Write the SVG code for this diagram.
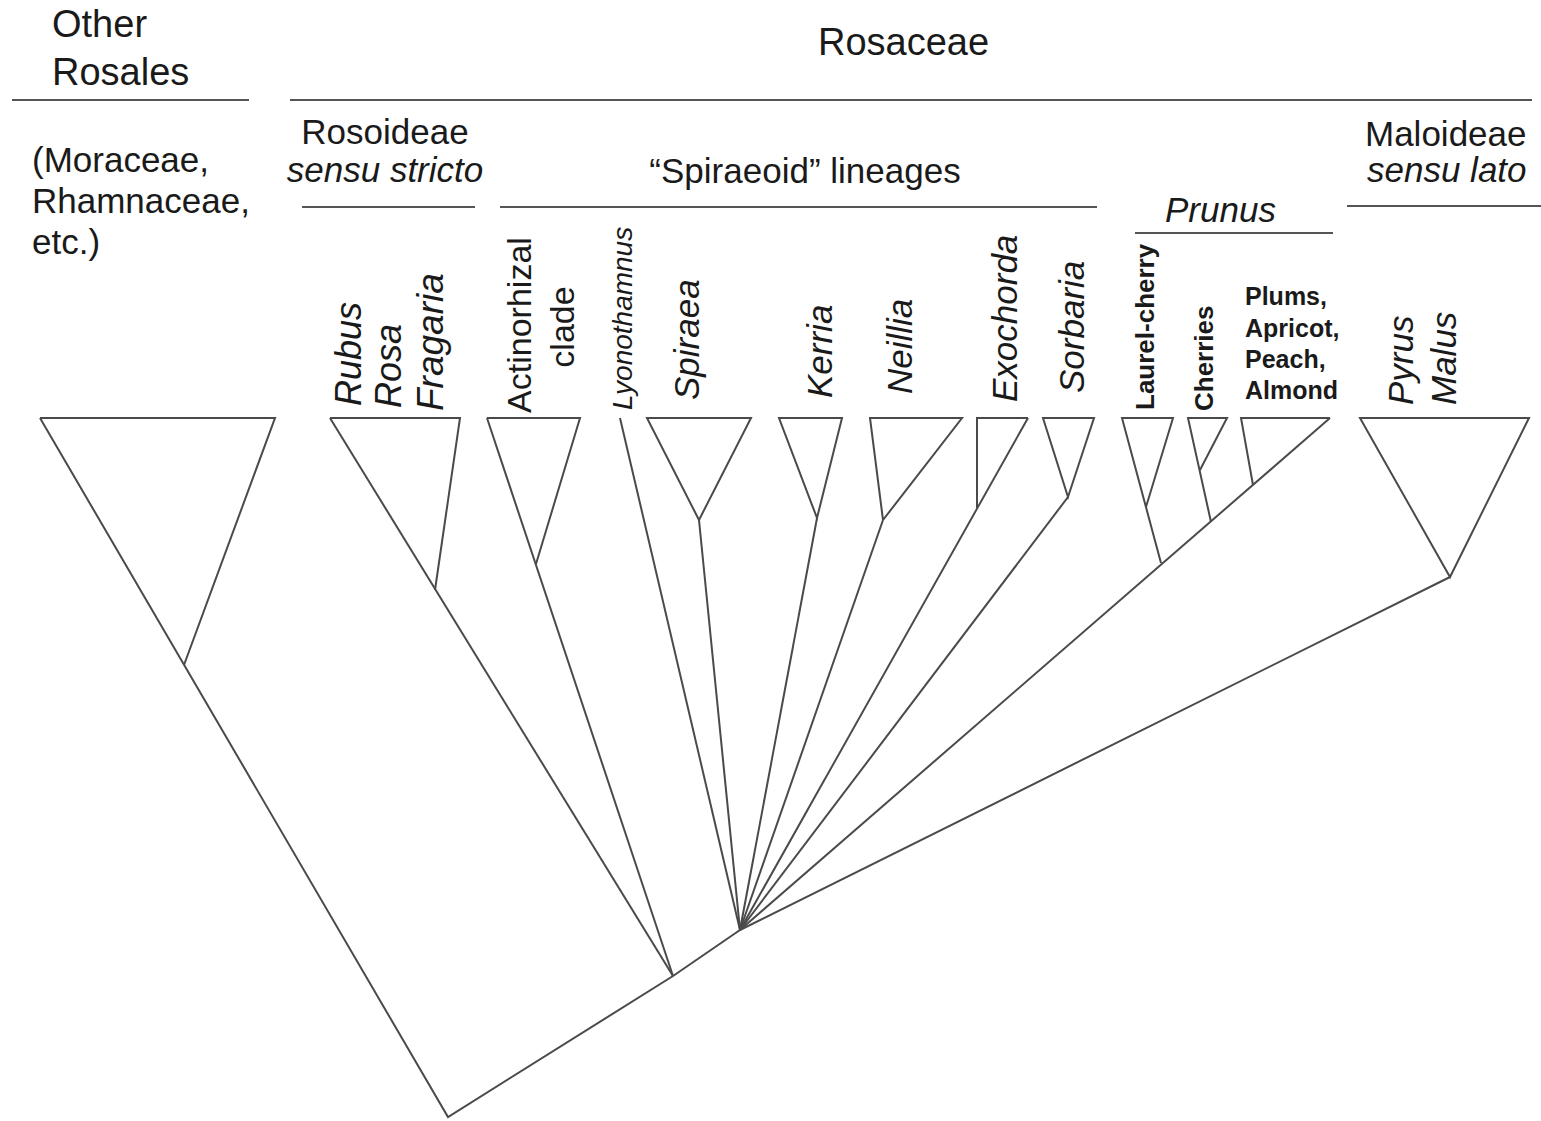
<svg xmlns="http://www.w3.org/2000/svg" width="1541" height="1121" viewBox="0 0 1541 1121">
<style>
text{font-family:"Liberation Sans",Arial,sans-serif;fill:#1a1a1a;font-size:35px}
.h{font-size:38px}
.i{font-style:italic}
.b{font-weight:bold;font-size:25px}
.m{text-anchor:middle}
.ln{stroke:#4a4a4a;stroke-width:2;fill:none;stroke-linejoin:miter}
.hd{stroke:#555;stroke-width:2.2;fill:none}
</style>
<rect width="1541" height="1121" fill="#fff"/>
<g id="headers">
<text class="h" x="52" y="37">Other</text>
<text class="h" x="52" y="85">Rosales</text>
<line class="hd" x1="12" y1="100" x2="249" y2="100"/>
<text class="h" x="818" y="55">Rosaceae</text>
<line class="hd" x1="290" y1="100" x2="1532" y2="100"/>
<text x="32" y="172">(Moraceae,</text>
<text x="32" y="213">Rhamnaceae,</text>
<text x="32" y="254">etc.)</text>
<text class="m" x="385" y="144">Rosoideae</text>
<text class="m i" x="385" y="182">sensu stricto</text>
<line class="hd" x1="302" y1="207" x2="475" y2="207"/>
<text class="m" x="805" y="183">“Spiraeoid” lineages</text>
<line class="hd" x1="500" y1="207" x2="1097" y2="207"/>
<text class="i" x="1165" y="222">Prunus</text>
<line class="hd" x1="1135" y1="233" x2="1333" y2="233"/>
<text x="1365" y="146">Maloideae</text>
<text class="i" x="1367" y="182">sensu lato</text>
<line class="hd" x1="1347" y1="206" x2="1541" y2="206"/>
</g>
<g id="node-other-rosales"><path class="ln" d="M40,418 H275 L184,665"/></g>
<g id="node-rosoideae">
<path class="ln" d="M330,418 H460 L435,590"/>
<text class="i" style="font-size:36px" transform="translate(361,406) rotate(-90)">Rubus</text>
<text class="i" style="font-size:36px" transform="translate(401,408) rotate(-90)">Rosa</text>
<text class="i" style="font-size:37px" transform="translate(443,411) rotate(-90)">Fragaria</text>
</g>
<g id="node-actinorhizal">
<path class="ln" d="M487,418 H580 L536,564"/>
<text class="m" style="font-size:34px" transform="translate(531,325) rotate(-90)">Actinorhizal</text>
<text class="m" style="font-size:34px" transform="translate(574,327) rotate(-90)">clade</text>
</g>
<g id="node-lyonothamnus">
<text class="i" style="font-size:28px" transform="translate(632,410) rotate(-90)">Lyonothamnus</text>
</g>
<g id="node-spiraea">
<path class="ln" d="M647,418 H751 L699,520 Z"/>
<text class="i" transform="translate(699,400) rotate(-90)">Spiraea</text>
</g>
<g id="node-kerria">
<path class="ln" d="M779,418 H842 L817,518 Z"/>
<text class="i" transform="translate(832,398) rotate(-90)">Kerria</text>
</g>
<g id="node-neillia">
<path class="ln" d="M883,520 L870,418 H962 L883,520"/>
<text class="i" transform="translate(912,394) rotate(-90)">Neillia</text>
</g>
<g id="node-exochorda">
<path class="ln" d="M977,508 V418 H1028"/>
<text class="i" transform="translate(1017,402) rotate(-90)">Exochorda</text>
</g>
<g id="node-sorbaria">
<path class="ln" d="M1043,418 H1094 L1068,497 Z"/>
<text class="i" transform="translate(1084,393) rotate(-90)">Sorbaria</text>
</g>
<g id="node-laurel-cherry">
<path class="ln" d="M1161,563 L1122,418 H1173 L1146,507"/>
<text class="b" style="font-size:26px" transform="translate(1154,410) rotate(-90)">Laurel-cherry</text>
</g>
<g id="node-cherries">
<path class="ln" d="M1211,522 L1188,418 H1227 L1200,470"/>
<text class="b" style="font-size:26px" transform="translate(1213,411) rotate(-90)">Cherries</text>
</g>
<g id="node-plums">
<path class="ln" d="M1253,485 L1241,418 H1330"/>
<text class="b" x="1245" y="305">Plums,</text>
<text class="b" x="1245" y="337">Apricot,</text>
<text class="b" x="1245" y="368">Peach,</text>
<text class="b" x="1245" y="399">Almond</text>
</g>
<g id="node-maloideae">
<path class="ln" d="M1360,418 H1529 L1450,577 Z"/>
<text class="i" transform="translate(1413,405) rotate(-90)">Pyrus</text>
<text class="i" transform="translate(1456,405) rotate(-90)">Malus</text>
</g>
<g id="connectors">
<path class="ln" d="M40,418 L448,1117 L673,976 L740,930"/>
<path class="ln" d="M330,418 L673,976"/>
<path class="ln" d="M487,418 L673,976"/>
<path class="ln" d="M620,418 L740,930"/>
<path class="ln" d="M699,520 L740,930"/>
<path class="ln" d="M817,518 L740,930"/>
<path class="ln" d="M883,520 L740,930"/>
<path class="ln" d="M1028,418 L740,930"/>
<path class="ln" d="M1068,497 L740,930"/>
<path class="ln" d="M1330,418 L740,930"/>
<path class="ln" d="M1450,577 L740,930"/>
</g>
</svg>
